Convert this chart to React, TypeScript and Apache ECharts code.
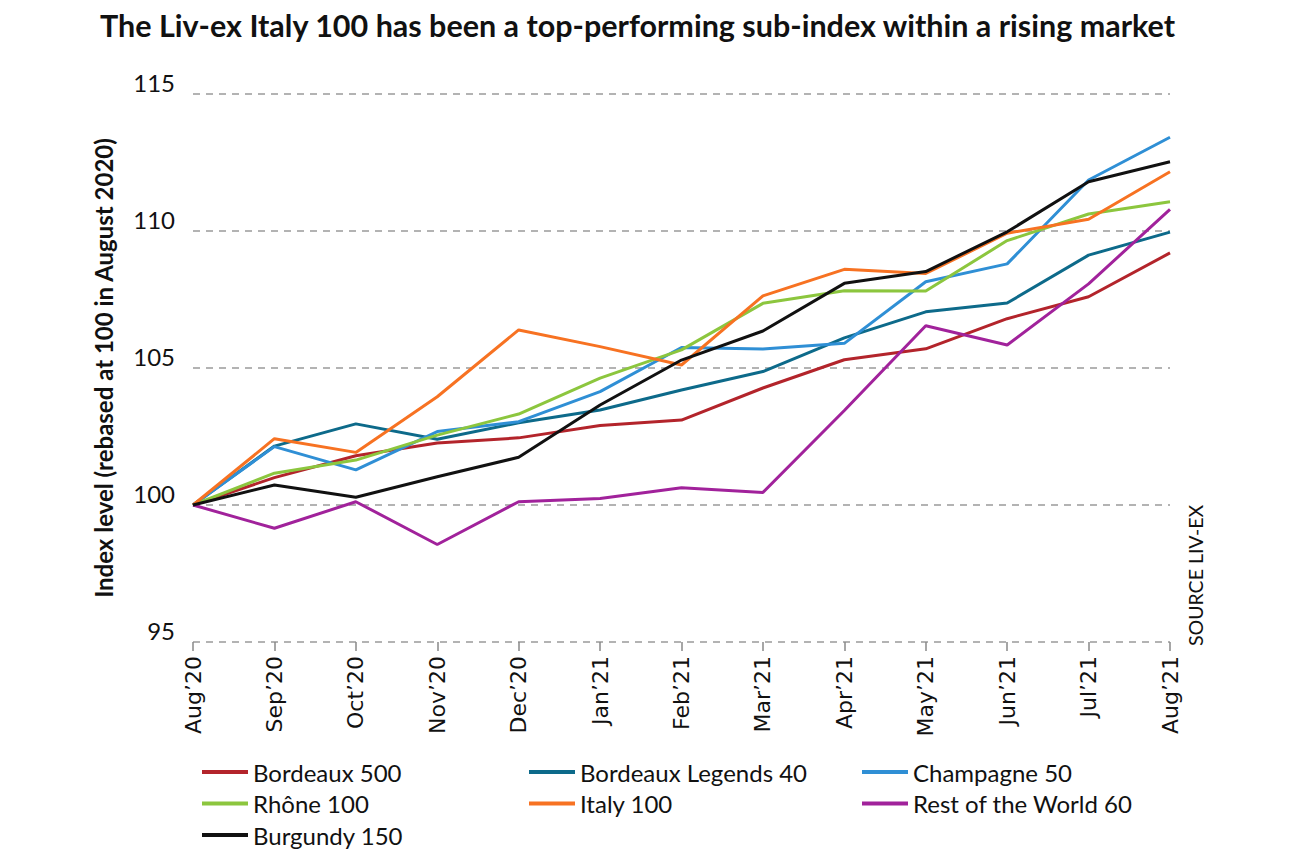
import React, { useEffect, useRef } from "react";
import * as echarts from "echarts";

const categories = ["Aug’20", "Sep’20", "Oct’20", "Nov’20", "Dec’20", "Jan’21", "Feb’21", "Mar’21", "Apr’21", "May’21", "Jun’21", "Jul’21", "Aug’21"];
const bordeaux500 = [100, 101.0, 101.8, 102.26, 102.45, 102.9, 103.1, 104.27, 105.3, 105.7, 106.8, 107.6, 109.2];
const bordeauxLegends40 = [100, 102.15, 102.96, 102.4, 103.0, 103.47, 104.2, 104.87, 106.1, 107.05, 107.37, 109.12, 109.96];
const champagne50 = [100, 102.13, 101.28, 102.68, 103.04, 104.14, 105.75, 105.69, 105.9, 108.15, 108.8, 111.86, 113.42];
const rhone100 = [100, 101.16, 101.64, 102.55, 103.32, 104.63, 105.66, 107.36, 107.82, 107.81, 109.65, 110.62, 111.07];
const italy100 = [100, 102.42, 101.92, 103.95, 106.39, 105.78, 105.11, 107.63, 108.6, 108.45, 109.92, 110.43, 112.16];
const restOfWorld60 = [100, 99.15, 100.12, 98.56, 100.12, 100.24, 100.63, 100.46, 103.45, 106.54, 105.84, 108.07, 110.79];
const burgundy150 = [100, 100.73, 100.28, 101.03, 101.74, 103.65, 105.29, 106.35, 108.09, 108.52, 109.97, 111.8, 112.53];
const yTicks = { min: 95, max: 115, interval: 5 };

const seriesDefs = [
  { name: "Bordeaux 500", data: bordeaux500, color: "#b3242b" },
  { name: "Bordeaux Legends 40", data: bordeauxLegends40, color: "#0d6a8a" },
  { name: "Champagne 50", data: champagne50, color: "#2f8fd5" },
  { name: "Rhône 100", data: rhone100, color: "#8cc63e" },
  { name: "Italy 100", data: italy100, color: "#f77222" },
  { name: "Rest of the World 60", data: restOfWorld60, color: "#a1229b" },
  { name: "Burgundy 150", data: burgundy150, color: "#111111" },
];

const NARROW = "Lato, 'Noto Sans', sans-serif";

export default function App() {
  const ref = useRef<HTMLDivElement>(null);
  useEffect(() => {
    if (!ref.current) return;
    const chart = echarts.init(ref.current, null, { renderer: "svg" });
    const legendCommon = {
      orient: "vertical",
      top: 755,
      icon: "rect",
      itemWidth: 46,
      itemHeight: 4,
      itemGap: 7.5,
      textStyle: { fontFamily: NARROW, fontSize: 24, color: "#111", lineHeight: 24 },
      selectedMode: false,
    };
    chart.setOption({
      animation: false,
      backgroundColor: "#fff",
      title: {
        text: "The Liv-ex Italy 100 has been a top-performing sub-index within a rising market",
        left: 95,
        top: 4,
        textStyle: { fontFamily: NARROW, fontWeight: "bold", fontSize: 30.5, color: "#111" },
      },
      grid: { left: 193, right: 130, top: 94, bottom: 218 },
      legend: [
        { ...legendCommon, left: 197, data: ["Bordeaux 500", "Rhône 100", "Burgundy 150"] },
        { ...legendCommon, left: 524, data: ["Bordeaux Legends 40", "Italy 100"] },
        { ...legendCommon, left: 857, data: ["Champagne 50", "Rest of the World 60"] },
      ],
      xAxis: {
        type: "category",
        data: categories,
        boundaryGap: false,
        axisLine: { show: false },
        axisTick: { show: true, length: 9, lineStyle: { color: "#888", width: 1.5 } },
        axisLabel: {
          rotate: 90,
          margin: 14,
          fontFamily: "'DejaVu Sans', Verdana, sans-serif",
          fontSize: 22,
          color: "#111",
          interval: 0,
        },
      },
      yAxis: {
        type: "value",
        min: yTicks.min,
        max: yTicks.max,
        interval: yTicks.interval,
        name: "Index level (rebased at 100 in August 2020)",
        nameLocation: "middle",
        nameRotate: 90,
        nameGap: 78,
        nameTextStyle: { fontFamily: NARROW, fontWeight: "bold", fontSize: 24, color: "#111" },
        axisLine: { show: false },
        axisTick: { show: false },
        axisLabel: { fontFamily: NARROW, fontSize: 24, color: "#111", margin: 18, verticalAlign: "bottom" },
        splitLine: { lineStyle: { type: [7, 6], color: "#9a9a9a", width: 1.5 } },
      },
      graphic: [
        {
          type: "text",
          x: 1195,
          y: 646,
          rotation: Math.PI / 2,
          style: {
            text: "SOURCE LIV-EX",
            fontFamily: NARROW,
            fontSize: 19.5,
            fill: "#111",
            textAlign: "left",
            textVerticalAlign: "middle",
          },
        },
      ],
      series: seriesDefs.map((s) => ({
        name: s.name,
        type: "line",
        data: s.data,
        symbol: "none",
        lineStyle: { width: 3, color: s.color },
        itemStyle: { color: s.color },
      })),
    });
    return () => chart.dispose();
  }, []);
  return <div ref={ref} style={{ width: 1300, height: 860, position: "absolute", left: 0, top: 0 }} />;
}
